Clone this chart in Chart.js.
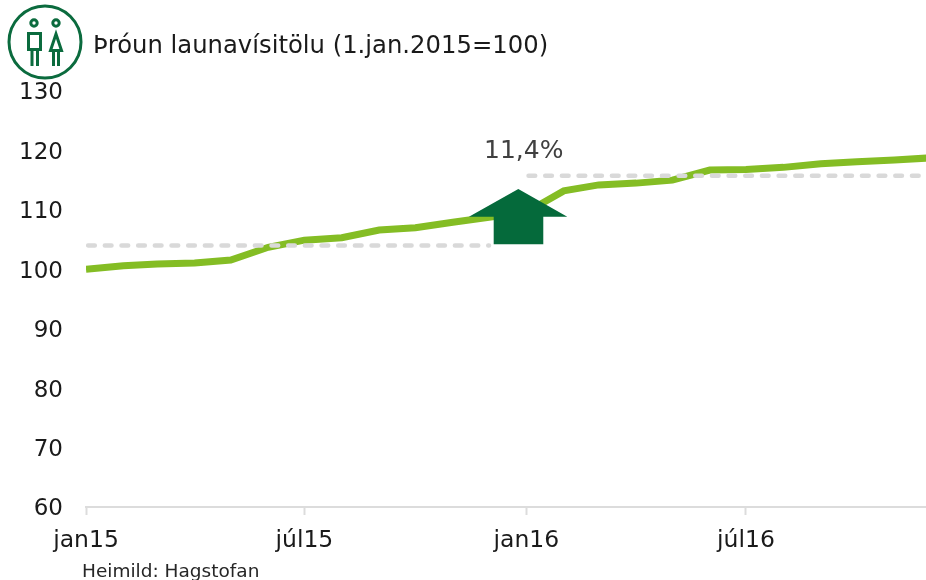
<!DOCTYPE html>
<html>
<head>
<meta charset="utf-8">
<script src="https://cdn.jsdelivr.net/npm/chart.js@4"></script>
<style>
    html, body { margin: 0; padding: 0; background: #fff; overflow: hidden; width: 926px; height: 580px; }
    body { position: relative; font-family: "DejaVu Sans", sans-serif; }
    #chart { position: absolute; left: 0; top: 0; }
    .txt { position: absolute; white-space: nowrap; line-height: 1; }
    #title { left: 93px; top: 33px; font-size: 24.3px; color: #1a1a1a; }
    #pct { left: 484px; top: 137px; font-size: 25px; color: #404040; }
    #source { left: 82px; top: 562px; font-size: 18.5px; color: #262626; }
    #icon { position: absolute; left: 0; top: 0; }
</style>
</head>
<body>
<canvas id="chart" width="926" height="580"></canvas>
<svg id="icon" width="90" height="85" fill="none" stroke="#0b6b3e" stroke-width="3">
    <circle cx="45" cy="42" r="36" stroke-width="3"/>
    <circle cx="34" cy="23" r="3.2"/>
    <circle cx="56" cy="23" r="3.2"/>
    <rect x="28.5" y="33.5" width="12" height="16"/>
    <path d="M32 50V66M37.5 50V66"/>
    <path d="M56 34L50.5 50.5H61.5Z"/>
    <path d="M53.5 50V66M58.5 50V66"/>
</svg>
<div class="txt" id="title">Þróun launavísitölu (1.jan.2015=100)</div>
<div class="txt" id="pct">11,4%</div>
<div class="txt" id="source">Heimild: Hagstofan</div>

<script>
// axis is a date axis in the original, so x is days since 1 jan 2015
const days = [0, 31, 59, 90, 120, 151, 181, 212, 243, 273, 304, 334,
    365, 396, 425, 456, 486, 517, 547, 578, 609, 639, 670, 700];
const tickDays = [0, 181, 365, 547];
const tickLabels = ["jan15", "júl15", "jan16", "júl16"];

const launavisitala = [100, 100.6, 100.9, 101.05, 101.55, 103.7, 104.9, 105.3, 106.6, 107, 107.9, 108.75,
    109.6, 113.2, 114.2, 114.5, 115, 116.7, 116.8, 117.15, 117.75, 118.1, 118.4, 118.75];
const medaltal15 = [104, 104, 104, 104, 104, 104, 104, 104, 104, 104, 104, 104,
    null, null, null, null, null, null, null, null, null, null, null, null];
const medaltal16 = [null, null, null, null, null, null, null, null, null, null, null, null,
    115.75, 115.75, 115.75, 115.75, 115.75, 115.75, 115.75, 115.75, 115.75, 115.75, 115.75, 115.75];

// arrow outline in axis units (days, index value)
const arrowX = [358.3, 398.9, 379, 379, 337.9, 337.9, 317.4];
const arrowY = [113.5, 108.85, 108.85, 104.2, 104.2, 108.85, 108.85];

const toPoints = (values) => values.map((v, i) => ({ x: days[i], y: v }));

const arrowPlugin = {
    id: "arrow",
    afterDatasetsDraw(c) {
        const ctx = c.ctx;
        const xs = c.scales.x, ys = c.scales.y;
        ctx.save();
        ctx.fillStyle = "#056a3b";
        ctx.beginPath();
        arrowX.forEach((v, i) => {
            const px = xs.getPixelForValue(v);
            const py = ys.getPixelForValue(arrowY[i]);
            if (i === 0) ctx.moveTo(px, py); else ctx.lineTo(px, py);
        });
        ctx.closePath();
        ctx.fill();
        ctx.restore();
    }
};

const dashStyle = {
    borderColor: "#d9d9d9",
    borderWidth: 4.6,
    borderDash: [6.6, 10.07],
    borderDashOffset: -2.2,
    borderCapStyle: "round",
    pointRadius: 0,
    fill: false
};

new Chart(document.getElementById("chart").getContext("2d"), {
    type: "line",
    data: {
        datasets: [
            { ...dashStyle, label: "2015", data: toPoints(medaltal15) },
            { ...dashStyle, label: "2016", data: toPoints(medaltal16) },
            {
                label: "Launavísitala",
                data: toPoints(launavisitala),
                borderColor: "#84bd24",
                borderWidth: 7,
                pointRadius: 0,
                tension: 0,
                fill: false
            }
        ]
    },
    plugins: [arrowPlugin],
    options: {
        responsive: false,
        animation: false,
        layout: { padding: { top: 91, right: 0, bottom: 0, left: 0 } },
        plugins: { legend: { display: false }, tooltip: { enabled: false }, title: { display: false } },
        scales: {
            x: {
                type: "linear",
                min: 0,
                max: 696.2,
                afterFit(scale) {
                    scale.height = 73;
                    scale.paddingLeft = 0;
                    scale.paddingRight = 0;
                },
                afterBuildTicks(scale) { scale.ticks = tickDays.map((d) => ({ value: d })); },
                border: { color: "#dcdcdc", width: 2 },
                grid: { drawOnChartArea: false, tickLength: 8, tickWidth: 2, tickColor: "#dcdcdc" },
                ticks: {
                    autoSkip: false,
                    maxRotation: 0,
                    minRotation: 0,
                    padding: 12,
                    color: "#1a1a1a",
                    font: { family: "DejaVu Sans", size: 23.5 },
                    callback(value) { return tickLabels[tickDays.indexOf(value)]; }
                }
            },
            y: {
                min: 60,
                max: 130,
                afterFit(scale) { scale.width = 86; },
                border: { display: false },
                grid: { display: false, drawTicks: false },
                ticks: {
                    stepSize: 10,
                    padding: 23,
                    labelOffset: 2.5,
                    color: "#1a1a1a",
                    font: { family: "DejaVu Sans", size: 23 }
                }
            }
        }
    }
});
</script>
</body>
</html>
